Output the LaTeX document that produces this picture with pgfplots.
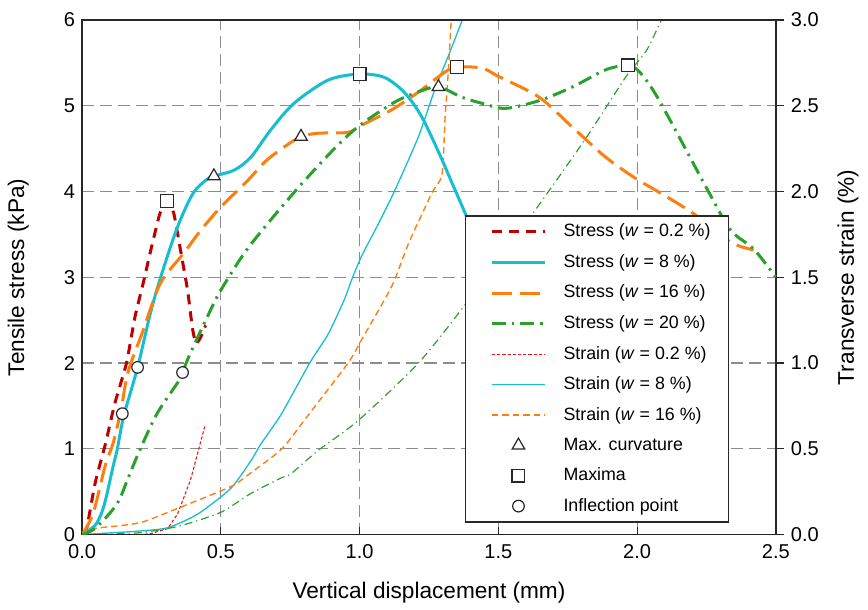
\documentclass[border=0pt]{standalone}
\usepackage{pgfplots}
\pgfplotsset{compat=1.18}
\usepackage{fontspec}
\setmainfont{Liberation Sans}
\definecolor{cR}{RGB}{192,0,0}
\definecolor{cRl}{RGB}{235,20,30}
\definecolor{cC}{RGB}{23,190,207}
\definecolor{cO}{RGB}{255,127,14}
\definecolor{cG}{RGB}{44,160,44}
\definecolor{axc}{RGB}{40,40,40}
\tikzset{
  sA/.style={cR, line width=1.5pt, dash pattern=on 5pt off 3.5pt},
  sB/.style={cC, line width=1.5pt},
  sC/.style={cO, line width=1.5pt, dash pattern=on 10pt off 4pt},
  sD/.style={cG, line width=1.5pt, dash pattern=on 7pt off 3pt on 1.2pt off 3pt},
  tA/.style={cRl, line width=0.55pt, dash pattern=on 1.6pt off 1pt},
  tB/.style={cC, line width=0.65pt},
  tC/.style={draw=cO, line width=0.7pt, dash pattern=on 3.2pt off 2pt},
  tD/.style={cG, line width=0.6pt, dash pattern=on 4pt off 2pt on 0.6pt off 2pt},
}
\begin{document}
\begin{tikzpicture}
% ---------- right axis: transverse strain ----------
\begin{axis}[
  name=ax,
  scale only axis, width=346.5pt, height=257pt,
  xmin=0, xmax=2.5, ymin=0, ymax=3,
  xtick={0,0.5,1,1.5,2,2.5}, xticklabels={},
  x tick style={draw=none},
  ytick={0,0.5,1,1.5,2,2.5,3},
  ytick pos=right, yticklabel pos=right,
  tick align=outside,
  major tick length=4pt,
  y tick style={axc, line width=0.6pt},
  grid=major,
  major grid style={gray!90, line width=0.6pt, dash pattern=on 6pt off 3pt},
  axis line style={axc, line width=0.75pt},
  /pgf/number format/assume math mode=true,
  yticklabel style={/pgf/number format/.cd, fixed, fixed zerofill, precision=1},
  tick label style={font=\fontsize{10pt}{12pt}\selectfont},
  ylabel={Transverse strain (\%)},
  ylabel style={font=\fontsize{11.3pt}{13pt}\selectfont, at={(axis description cs:1.104,0.5)}, anchor=center},
]
\addplot[tA] table {
x y
0 0
0.2 0
0.246 0.005
0.308 0.035
0.344 0.12
0.39 0.315
0.442 0.63
};
\addplot[tB, smooth, tension=0.4] table {
x y
0 0
0.1 0.01
0.2 0.02
0.308 0.04
0.417 0.12
0.536 0.27
0.608 0.43
0.645 0.53
0.717 0.70
0.82 1.0
0.887 1.17
0.945 1.37
0.97 1.48
1.006 1.62
1.067 1.81
1.125 2.0
1.212 2.32
1.27 2.59
1.327 2.82
1.37 3.0
};
\addplot[tC, smooth, tension=0.4] table {
x y
0 0
0.02 0.03
0.065 0.04
0.21 0.07
0.355 0.16
0.536 0.28
0.608 0.36
0.72 0.50
0.8 0.665
0.958 1.0
1.005 1.13
1.09 1.37
1.125 1.48
1.177 1.70
1.26 1.99
1.297 2.1
1.308 2.43
1.32 2.71
1.33 3.0
};
\addplot[tD, smooth, tension=0.4] table {
x y
0 0
0.2 0.01
0.35 0.05
0.5 0.13
0.608 0.24
0.717 0.33
0.753 0.355
0.85 0.49
0.995 0.665
1.212 1.0
1.38 1.34
1.623 1.87
1.815 2.31
1.96 2.67
2.033 2.82
2.087 3.0
};
\end{axis}
% ---------- left axis: tensile stress ----------
\begin{axis}[
  scale only axis, width=346.5pt, height=257pt,
  xmin=0, xmax=2.5, ymin=0, ymax=6,
  xtick={0,0.5,1,1.5,2,2.5},
  ytick={0,1,2,3,4,5,6},
  xtick pos=bottom, ytick pos=left,
  tick align=inside,
  major tick length=4pt,
  x tick style={axc, line width=0.6pt},
  y tick style={draw=none},
  axis line style={axc, line width=0.75pt},
  /pgf/number format/assume math mode=true,
  xticklabel style={/pgf/number format/.cd, fixed, fixed zerofill, precision=1, /tikz/yshift=-1.5pt},
  tick label style={font=\fontsize{10pt}{12pt}\selectfont},
  xlabel={Vertical displacement (mm)},
  ylabel={Tensile stress (kPa)},
  xlabel style={font=\fontsize{11.3pt}{13pt}\selectfont, at={(axis description cs:0.5,-0.113)}, anchor=center},
  ylabel style={font=\fontsize{11.3pt}{13pt}\selectfont, at={(axis description cs:-0.092,0.5)}, anchor=center},
  legend cell align=left,
  legend style={at={(axis description cs:0.5516,0.6203)}, anchor=north west,
    draw=axc, line width=0.6pt, fill=white,
    font=\fontsize{8.9pt}{10pt}\selectfont,
    row sep=3.3pt, inner sep=2pt},
  legend image code/.code={%
    \path (0pt,0pt) (43.5pt,0pt);
    \draw[mark repeat=2, mark phase=2, #1] plot coordinates {(10.5pt,0pt) (23.75pt,0pt) (37pt,0pt)};},
]
\addplot[sA, smooth, tension=0.35] table {
x y
0 0
0.017 0.08
0.047 0.6
0.085 1.07
0.118 1.53
0.16 2.0
0.19 2.53
0.22 2.93
0.25 3.35
0.28 3.74
0.305 3.89
0.33 3.75
0.355 3.31
0.38 2.85
0.397 2.42
0.41 2.23
0.427 2.30
0.445 2.44
};
\addlegendentry{Stress (\textit{w} = 0.2 \%)\hspace*{5pt}}
\addplot[sB, smooth, tension=0.5] table {
x y
0 0
0.05 0.12
0.08 0.35
0.112 0.8
0.127 1.0
0.15 1.38
0.2 1.95
0.246 2.58
0.283 3.0
0.343 3.58
0.40 3.98
0.453 4.15
0.475 4.18
0.548 4.25
0.608 4.40
0.68 4.72
0.764 5.03
0.887 5.30
1.0 5.37
1.09 5.33
1.163 5.15
1.224 4.87
1.286 4.45
1.333 4.10
1.38 3.75
1.42 3.45
};
\addlegendentry{Stress (\textit{w} = 8 \%)}
\addplot[sC, smooth, tension=0.5] table {
x y
0 0
0.04 0.25
0.083 0.8
0.112 1.07
0.14 1.45
0.166 1.9
0.22 2.38
0.282 2.93
0.366 3.28
0.428 3.55
0.5 3.82
0.597 4.13
0.66 4.35
0.728 4.52
0.789 4.64
0.85 4.68
0.958 4.69
1.005 4.77
1.114 4.95
1.212 5.16
1.306 5.39
1.35 5.45
1.44 5.44
1.502 5.34
1.647 5.10
1.767 4.75
1.887 4.40
1.996 4.15
2.08 3.99
2.2 3.75
2.337 3.41
2.42 3.32
};
\addlegendentry{Stress (\textit{w} = 16 \%)}
\addplot[sD, smooth, tension=0.5] table {
x y
0 0
0.05 0.08
0.126 0.36
0.167 0.67
0.21 1.0
0.27 1.41
0.35 1.8
0.362 1.89
0.384 2.07
0.45 2.53
0.5 2.85
0.6 3.35
0.764 3.99
0.909 4.50
1.0 4.77
1.125 5.04
1.21 5.16
1.284 5.22
1.368 5.10
1.44 5.03
1.525 4.97
1.647 5.06
1.767 5.22
1.887 5.42
1.967 5.47
2.01 5.39
2.08 5.06
2.257 4.0
2.337 3.55
2.42 3.33
2.5 3.0
};
\addlegendentry{Stress (\textit{w} = 20 \%)}
\addlegendimage{tA}
\addlegendentry{Strain (\textit{w} = 0.2 \%)}
\addlegendimage{tB}
\addlegendentry{Strain (\textit{w} = 8 \%)}
\addlegendimage{tC}
\addlegendentry{Strain (\textit{w} = 16 \%)}
\addplot[only marks, mark=triangle*, mark size=3.6pt, mark options={solid, draw=axc, fill=white, line width=0.6pt}] table {
x y
0.475 4.18
0.789 4.64
1.284 5.22
};
\addlegendentry{Max. curvature}
\addplot[only marks, mark=square*, mark size=3.2pt, mark options={solid, draw=axc, fill=white, line width=0.6pt}] table {
x y
0.305 3.89
1.0 5.37
1.35 5.45
1.967 5.47
};
\addlegendentry{Maxima}
\addplot[only marks, mark=*, mark size=2.9pt, mark options={solid, draw=axc, fill=white, line width=0.6pt}] table {
x y
0.145 1.41
0.2 1.95
0.362 1.89
};
\addlegendentry{Inflection point}
\end{axis}
\path (ax.north) ++(0,10pt);
\path (ax.south) ++(0,-36pt);
\path (ax.west) ++(-41pt,0);
\path (ax.east) ++(46pt,0);
\end{tikzpicture}
\end{document}
